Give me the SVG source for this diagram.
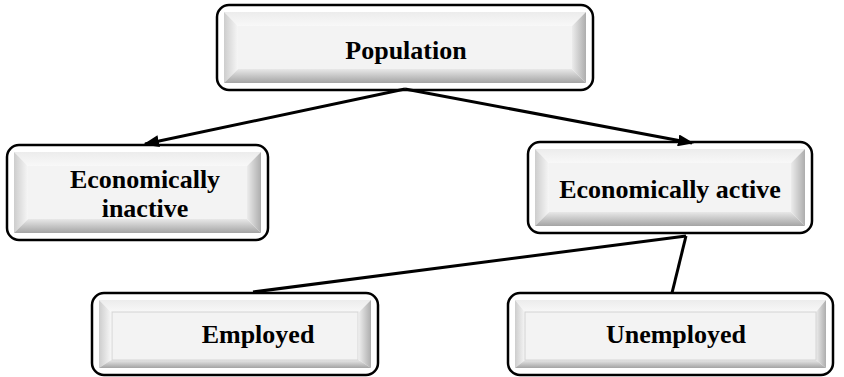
<svg xmlns="http://www.w3.org/2000/svg" width="844" height="377" viewBox="0 0 844 377">
  <defs>
    <linearGradient id="gTop" x1="0" y1="0" x2="0" y2="1">
      <stop offset="0" stop-color="#ececec"/>
      <stop offset="1" stop-color="#f8f8f8"/>
    </linearGradient>
    <linearGradient id="gLeft" x1="0" y1="0" x2="1" y2="0">
      <stop offset="0" stop-color="#cdcdcd"/>
      <stop offset="1" stop-color="#f6f6f6"/>
    </linearGradient>
    <linearGradient id="gRight" x1="0" y1="0" x2="1" y2="0">
      <stop offset="0" stop-color="#ececec"/>
      <stop offset="1" stop-color="#adadad"/>
    </linearGradient>
    <linearGradient id="gBottom" x1="0" y1="0" x2="0" y2="1">
      <stop offset="0" stop-color="#e8e8e8"/>
      <stop offset="1" stop-color="#a4a4a4"/>
    </linearGradient>
    <marker id="arrow" markerUnits="userSpaceOnUse" markerWidth="16" markerHeight="12" refX="14" refY="6" orient="auto">
      <path d="M0,0 L16,6 L0,12 z" fill="#000"/>
    </marker>
    <style>
      .outer { fill: #ffffff; stroke: #000; stroke-width: 2.5; }
      .face { fill: #f3f3f3; }
      .flat { fill: #f3f3f3; stroke: #d4d4d4; stroke-width: 1; }
      .bt { fill: url(#gTop); }
      .bl { fill: url(#gLeft); }
      .br { fill: url(#gRight); }
      .bb { fill: url(#gBottom); }
      .lbl { font-weight: bold; font-size: 26px; fill: #000; text-anchor: middle; }
      .conn { stroke: #000; stroke-width: 3; fill: none; }
    </style>
  </defs>

  <g id="population">
    <rect class="outer" x="217" y="5" width="376" height="85" rx="12"/>
    <polygon class="bt" points="224,12 586,12 572,26 238,26"/>
    <polygon class="bl" points="224,12 238,26 238,69 224,83"/>
    <polygon class="br" points="586,12 586,83 572,69 572,26"/>
    <polygon class="bb" points="224,83 238,69 572,69 586,83"/>
    <rect class="face" x="238" y="26" width="334" height="43"/>
    <text class="lbl" font-family="'Liberation Serif', 'Times New Roman', 'DejaVu Serif', serif" x="406" y="59">Population</text>
  </g>

  <g id="inactive">
    <rect class="outer" x="7" y="145" width="261" height="95" rx="12"/>
    <polygon class="bt" points="14,152 261,152 247,166 28,166"/>
    <polygon class="bl" points="14,152 28,166 28,219 14,233"/>
    <polygon class="br" points="261,152 261,233 247,219 247,166"/>
    <polygon class="bb" points="14,233 28,219 247,219 261,233"/>
    <rect class="face" x="28" y="166" width="219" height="53"/>
    <text class="lbl" font-family="'Liberation Serif', 'Times New Roman', 'DejaVu Serif', serif" x="145" y="188">Economically</text>
    <text class="lbl" font-family="'Liberation Serif', 'Times New Roman', 'DejaVu Serif', serif" x="145" y="217">inactive</text>
  </g>

  <g id="active">
    <rect class="outer" x="528" y="142" width="284" height="91" rx="12"/>
    <polygon class="bt" points="535,149 805,149 791,163 549,163"/>
    <polygon class="bl" points="535,149 549,163 549,212 535,226"/>
    <polygon class="br" points="805,149 805,226 791,212 791,163"/>
    <polygon class="bb" points="535,226 549,212 791,212 805,226"/>
    <rect class="face" x="549" y="163" width="242" height="49"/>
    <text class="lbl" font-family="'Liberation Serif', 'Times New Roman', 'DejaVu Serif', serif" x="670" y="198">Economically active</text>
  </g>

  <g id="employed">
    <rect class="outer" x="92" y="293" width="286" height="82" rx="12"/>
    <polygon class="bt" points="99,300 371,300 359,312 111,312"/>
    <polygon class="bl" points="99,300 111,312 111,360 99,368"/>
    <polygon class="br" points="371,300 371,368 359,360 359,312"/>
    <polygon class="bb" points="99,368 111,360 359,360 371,368"/>
    <rect class="flat" x="112" y="312" width="246" height="48"/>
    <text class="lbl" font-family="'Liberation Serif', 'Times New Roman', 'DejaVu Serif', serif" x="258" y="343">Employed</text>
  </g>

  <g id="unemployed">
    <rect class="outer" x="508" y="293" width="325" height="82" rx="12"/>
    <polygon class="bt" points="515,300 826,300 816,312 525,312"/>
    <polygon class="bl" points="515,300 525,312 525,360 515,368"/>
    <polygon class="br" points="826,300 826,368 816,360 816,312"/>
    <polygon class="bb" points="515,368 525,360 816,360 826,368"/>
    <rect class="flat" x="525" y="312" width="291" height="48"/>
    <text class="lbl" font-family="'Liberation Serif', 'Times New Roman', 'DejaVu Serif', serif" x="676" y="343">Unemployed</text>
  </g>

  <g id="connectors">
    <line class="conn" x1="405" y1="89" x2="145" y2="144" marker-end="url(#arrow)"/>
    <line class="conn" x1="405" y1="89" x2="692" y2="143" marker-end="url(#arrow)"/>
    <line class="conn" x1="686" y1="236" x2="253" y2="292"/>
    <line class="conn" x1="686" y1="236" x2="672" y2="293"/>
  </g>
</svg>
